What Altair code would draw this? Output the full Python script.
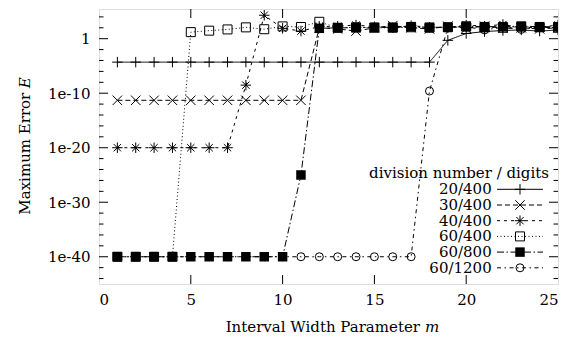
import altair as alt
import pandas as pd

# ---------------- data ----------------
m_values = list(range(1, 26))
series_names = ["20/400", "30/400", "40/400", "60/400", "60/800", "60/1200"]

err_20_400 = [5e-5, 5e-5, 5e-5, 5e-5, 5e-5, 5e-5, 5e-5, 5e-5, 5e-5, 5e-5,
              5e-5, 5e-5, 5e-5, 5e-5, 5e-5, 5e-5, 5e-5, 5e-5,
              0.5, 9, 20, 32, 40, 25, 40]
err_30_400 = [5e-12, 5e-12, 5e-12, 5e-12, 5e-12, 5e-12, 5e-12, 5e-12, 5e-12, 5e-12, 5e-12,
              100, 63, 25, 100, 250, 100, 63, 200, 80, 200, 80, 100, 63, 100]
err_40_400 = [1e-20, 1e-20, 1e-20, 1e-20, 1e-20, 1e-20, 1e-20,
              3e-9, 2e4, 80, 25,
              160, 200, 320, 160, 100, 250, 125, 100, 320, 200, 400, 100, 125, 320]
err_60_400 = [1e-40, 1e-40, 1e-40, 1e-40,
              16, 30, 50, 120, 55, 180, 140, 1250,
              100, 125, 100, 100, 125, 100, 125, 160, 125, 100, 160, 125, 100]
err_60_800 = [1e-40, 1e-40, 1e-40, 1e-40, 1e-40, 1e-40, 1e-40, 1e-40, 1e-40, 1e-40,
              1e-25,
              80, 100, 100, 125, 125, 160, 125, 125, 200, 160, 160, 200, 160, 160]
err_60_1200 = [1e-40, 1e-40, 1e-40, 1e-40, 1e-40, 1e-40, 1e-40, 1e-40, 1e-40, 1e-40,
               1e-40, 1e-40, 1e-40, 1e-40, 1e-40, 1e-40, 1e-40,
               2.5e-10,
               100, 160, 40, 125, 50, 125, 100]

all_errors = [err_20_400, err_30_400, err_40_400, err_60_400, err_60_800, err_60_1200]

x_tick_values = [0, 5, 10, 15, 20, 25]
x_inner_ticks = [5, 10, 15, 20]
y_major_ticks = [1e-40, 1e-30, 1e-20, 1e-10, 1]
y_minor_ticks = [1e-44, 1e-42, 1e-38, 1e-36, 1e-34, 1e-32, 1e-28, 1e-26, 1e-24, 1e-22,
                 1e-18, 1e-16, 1e-14, 1e-12, 1e-8, 1e-6, 1e-4, 1e-2, 1e2, 1e4]

legend_title = "division number / digits"
x_title_main, x_title_var = "Interval Width Parameter", "m"
y_title_main, y_title_var = "Maximum Error", "E"

# ---------------- styling ----------------
W, H = 459, 275
FONT = "DejaVu Serif"
FS = 15

shapes = [
    ("M-1,0H1M0,-1V1", False, 110),
    ("M-1,-1L1,1M-1,1L1,-1", False, 90),
    ("M-1,0H1M0,-1V1M-0.7,-0.7L0.7,0.7M-0.7,0.7L0.7,-0.7", False, 110),
    ("square", False, 81),
    ("square", True, 90),
    ("circle", False, 64),
]
dashes = [[1, 0], [5, 3], [3, 4], [1, 2.5], [7, 2.5, 1.5, 2.5], [4, 3.5, 1.5, 3.5]]

rows = []
for name, errs in zip(series_names, all_errors):
    for m, e in zip(m_values, errs):
        rows.append({"series": name, "m": m, "err": e})
df = pd.DataFrame(rows)

xscale = alt.Scale(domain=[0, 25], nice=False, zero=False)
yscale = alt.Scale(type="log", domain=[1e-45, 2.8e5], nice=False)

lines = alt.Chart(df).mark_line(color="black", strokeWidth=1, clip=True).encode(
    x=alt.X("m:Q", scale=xscale,
            axis=alt.Axis(values=x_tick_values, format="d", ticks=False, domain=False, grid=False,
                          labelFont=FONT, labelFontSize=FS, labelColor="black", labelPadding=8,
                          title=None)),
    y=alt.Y("err:Q", scale=yscale,
            axis=alt.Axis(values=y_major_ticks, ticks=False, domain=False, grid=False,
                          labelExpr="datum.value >= 1 ? '1' : '1e' + round(log(datum.value)/LN10)",
                          labelFont=FONT, labelFontSize=FS, labelColor="black", labelPadding=9,
                          title=None)),
    strokeDash=alt.StrokeDash("series:N", scale=alt.Scale(domain=series_names, range=dashes), legend=None),
    detail="series:N",
    order="m:Q",
)

layers = [lines]

for name, (shape, filled, size) in zip(series_names, shapes):
    sub = df[df["series"] == name]
    layers.append(
        alt.Chart(sub).mark_point(shape=shape, filled=filled, size=size, color="black",
                                  strokeWidth=1, opacity=1, clip=True).encode(
            x=alt.X("m:Q", scale=xscale),
            y=alt.Y("err:Q", scale=yscale),
        )
    )

# inward ticks
def ytick_layer(vals, length):
    d = pd.DataFrame({"v": vals})
    left = alt.Chart(d).mark_rule(color="black", strokeWidth=1).encode(
        y=alt.Y("v:Q", scale=yscale), x=alt.value(0), x2=alt.value(length))
    right = alt.Chart(d).mark_rule(color="black", strokeWidth=1).encode(
        y=alt.Y("v:Q", scale=yscale), x=alt.value(W - length), x2=alt.value(W))
    return [left, right]

layers += ytick_layer(y_major_ticks, 9)
layers += ytick_layer(y_minor_ticks, 4.5)

dx = pd.DataFrame({"v": x_inner_ticks})
layers.append(alt.Chart(dx).mark_rule(color="black", strokeWidth=1).encode(
    x=alt.X("v:Q", scale=xscale), y=alt.value(H - 9), y2=alt.value(H)))
layers.append(alt.Chart(dx).mark_rule(color="black", strokeWidth=1).encode(
    x=alt.X("v:Q", scale=xscale), y=alt.value(0), y2=alt.value(9)))

# axis titles with italic variable
one = pd.DataFrame({"a": [0]})
layers.append(alt.Chart(one).mark_text(text=x_title_main, font=FONT, fontSize=FS, align="right",
                                       baseline="alphabetic", color="black").encode(
    x=alt.value(321), y=alt.value(323)))
layers.append(alt.Chart(one).mark_text(text=x_title_var, font=FONT, fontSize=FS, fontStyle="italic",
                                       align="left", baseline="alphabetic", color="black").encode(
    x=alt.value(326), y=alt.value(323)))
layers.append(alt.Chart(one).mark_text(text=y_title_main, font=FONT, fontSize=FS, align="right",
                                       baseline="alphabetic", angle=270, color="black").encode(
    x=alt.value(-69), y=alt.value(83.7)))
layers.append(alt.Chart(one).mark_text(text=y_title_var, font=FONT, fontSize=FS, fontStyle="italic",
                                       align="left", baseline="alphabetic", angle=270, color="black").encode(
    x=alt.value(-69), y=alt.value(79.3)))

# legend (gnuplot style: label left of sample)
layers.append(alt.Chart(one).mark_text(text=legend_title, font=FONT, fontSize=FS, align="right",
                                       baseline="middle", color="black").encode(
    x=alt.value(450), y=alt.value(164)))
for i, (name, (shape, filled, size), dash) in enumerate(zip(series_names, shapes, dashes)):
    yy = 180.3 + i * 15.7
    nd = pd.DataFrame({"name": [name]})
    layers.append(alt.Chart(nd).mark_text(font=FONT, fontSize=FS, align="right", baseline="middle",
                                          color="black").encode(
        text="name:N", x=alt.value(392.7), y=alt.value(yy)))
    layers.append(alt.Chart(nd).mark_rule(color="black", strokeWidth=1, strokeDash=dash).encode(
        x=alt.value(398), x2=alt.value(444), y=alt.value(yy)))
    layers.append(alt.Chart(nd).mark_point(shape=shape, filled=filled, size=size, color="black",
                                           strokeWidth=1, opacity=1).encode(
        x=alt.value(421), y=alt.value(yy)))

chart = alt.layer(*layers).properties(
    width=W, height=H,
    autosize=alt.AutoSizeParams(type="none"),
    padding={"left": 91, "top": 1, "right": 5, "bottom": 52},
).configure_view(stroke="black", strokeWidth=1.3).configure(background="white")

chart.save("out.html", embed_options={"renderer": "svg", "actions": False})
